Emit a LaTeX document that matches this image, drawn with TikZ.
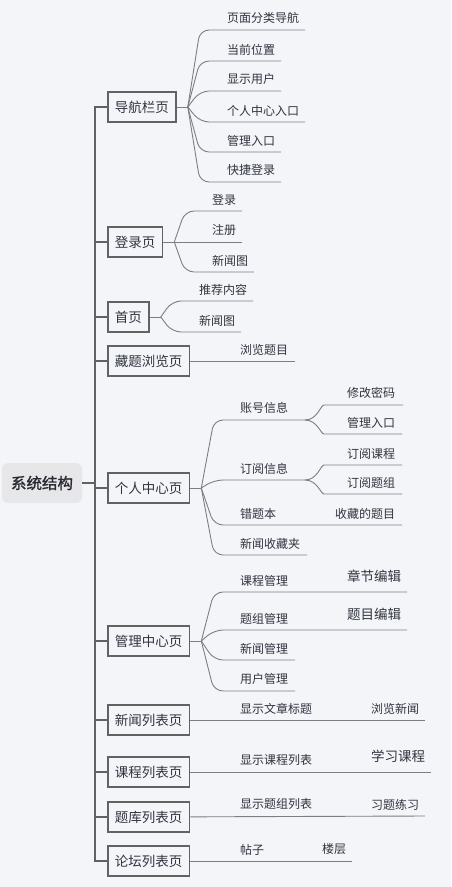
\documentclass[tikz,border=0pt]{standalone}
\usepackage{fontspec}
\setmainfont{Noto Sans CJK SC}
\newfontfamily\rootfont[FakeBold=1.4]{Noto Sans CJK SC}
\definecolor{bg}{HTML}{F4F5F9}
\definecolor{ink}{HTML}{30343E}
\definecolor{rootgray}{HTML}{E7E7E9}
\definecolor{boxgray}{HTML}{626262}
\definecolor{twiggray}{HTML}{7E7E82}

\begin{document}
\begin{tikzpicture}[x=1pt, y=-1pt,
		rootbox/.style={
				fill=rootgray, rounded corners=6pt,
				minimum width=80pt, minimum height=40pt,
				text=ink!80!black, font=\rootfont\fontsize{15.5}{18}\selectfont
			},
		pagebox/.style={
				draw=boxgray, line width=1.8pt, fill=bg, anchor=west,
				minimum height=30pt, inner xsep=7pt,
				text=ink, font=\fontsize{13.5}{16}\selectfont
			},
		leaf/.style={
				anchor=south west, inner xsep=0pt, inner ysep=6pt, outer sep=0pt,
				text=ink, font=\fontsize{12}{14}\selectfont
			},
		bigleaf/.style={leaf, inner ysep=9pt, font=\fontsize{13.5}{16}\selectfont},
		twig/.style={draw=twiggray, line width=0.9pt, rounded corners=9pt},
		spine/.style={draw=boxgray, line width=2pt}
	]
	\useasboundingbox (0,0) rectangle (451,887);
	\fill[bg] (0,0) rectangle (451,887);

	% root and pages
	\node[rootbox] (root) at (42,483) {系统结构};
	\node[pagebox] (nav) at (107,107) {导航栏页};
	\node[pagebox] (login) at (107,242) {登录页};
	\node[pagebox] (home) at (107,317) {首页};
	\node[pagebox] (browse) at (107,361) {藏题浏览页};
	\node[pagebox] (user) at (107,488) {个人中心页};
	\node[pagebox] (mgr) at (107,641) {管理中心页};
	\node[pagebox] (news) at (107,720) {新闻列表页};
	\node[pagebox] (course) at (107,772) {课程列表页};
	\node[pagebox] (bank) at (107,817) {题库列表页};
	\node[pagebox] (forum) at (107,861) {论坛列表页};

	% spine
	\coordinate (spineTop) at ([xshift=-12pt]nav.west);
	\draw[spine] (nav.west) -- (spineTop) |- (forum.west);
	\draw[spine] (root) -- (root -| spineTop);
	\draw[spine] (login) -- (login -| spineTop);
	\draw[spine] (home) -- (home -| spineTop);
	\draw[spine] (browse) -- (browse -| spineTop);
	\draw[spine] (user) -- (user -| spineTop);
	\draw[spine] (mgr) -- (mgr -| spineTop);
	\draw[spine] (news) -- (news -| spineTop);
	\draw[spine] (course) -- (course -| spineTop);
	\draw[spine] (bank) -- (bank -| spineTop);

	% navigation bar
	\node[leaf] (nav1) at (227,30) {页面分类导航};
	\node[leaf] (nav2) at (227,61) {当前位置};
	\node[leaf] (nav3) at (227,91) {显示用户};
	\node[leaf] (nav4) at (227,122) {个人中心入口};
	\node[leaf] (nav5) at (227,152) {管理入口};
	\node[leaf] (nav6) at (227,182) {快捷登录};
	\coordinate (navJ) at ([xshift=11pt]nav.east);
	\draw[twig] (nav) -- (navJ);
	\draw[twig] (navJ) -- ([xshift=-27pt]nav1.south west) -- ([xshift=6pt]nav1.south east);
	\draw[twig] (navJ) -- ([xshift=-27pt]nav2.south west) -- ([xshift=6pt]nav2.south east);
	\draw[twig] (navJ) -- ([xshift=-27pt]nav3.south west) -- ([xshift=6pt]nav3.south east);
	\draw[twig] (navJ) -- ([xshift=-27pt]nav4.south west) -- ([xshift=6pt]nav4.south east);
	\draw[twig] (navJ) -- ([xshift=-27pt]nav5.south west) -- ([xshift=6pt]nav5.south east);
	\draw[twig] (navJ) -- ([xshift=-27pt]nav6.south west) -- ([xshift=6pt]nav6.south east);

	% login page
	\node[leaf] (log1) at (212,211) {登录};
	\node[leaf] (log2) at (212,242) {注册};
	\node[leaf] (log3) at (212,272) {新闻图};
	\coordinate (logJ) at ([xshift=11pt]login.east);
	\draw[twig] (login) -- (logJ);
	\draw[twig] (logJ) -- ([xshift=-27pt]log1.south west) -- ([xshift=6pt]log1.south east);
	\draw[twig] (logJ) -- ([xshift=6pt]log2.south east);
	\draw[twig] (logJ) -- ([xshift=-27pt]log3.south west) -- ([xshift=6pt]log3.south east);

	% home page
	\node[leaf] (home1) at (199,301) {推荐内容};
	\node[leaf] (home2) at (199,332) {新闻图};
	\coordinate (homeJ) at ([xshift=11pt]home.east);
	\draw[twig] (home) -- (homeJ);
	\draw[twig] (homeJ) -- ([xshift=-27pt]home1.south west) -- ([xshift=6pt]home1.south east);
	\draw[twig] (homeJ) -- ([xshift=-27pt]home2.south west) -- ([xshift=6pt]home2.south east);

	% browse page
	\node[leaf] (browse1) at (240,361) {浏览题目};
	\draw[twig] (browse) -- ([xshift=7pt]browse1.south east);

	% personal center
	\node[leaf] (user1) at (240,420) {账号信息};
	\node[leaf] (user2) at (240,480) {订阅信息};
	\node[leaf] (user3) at (240,525) {错题本};
	\node[leaf] (user4) at (240,555) {新闻收藏夹};
	\node[leaf] (pwd) at (347,405) {修改密码};
	\node[leaf] (admin) at (347,434) {管理入口};
	\node[leaf] (subc) at (347,465) {订阅课程};
	\node[leaf] (subg) at (347,494) {订阅题组};
	\node[leaf] (fav) at (335,525) {收藏的题目};
	\coordinate (userJ) at ([xshift=11pt]user.east);
	\coordinate (accJ) at ([xshift=17pt]user1.south east);
	\coordinate (subJ) at ([xshift=17pt]user2.south east);
	\draw[twig] (user) -- (userJ);
	\draw[twig] (userJ) -- ([xshift=-26pt]user1.south west) -- (accJ);
	\draw[twig] (userJ) -- ([xshift=-26pt]user2.south west) -- (subJ);
	\draw[twig] (userJ) -- ([xshift=-26pt]user3.south west) -- ([xshift=7pt]fav.south east);
	\draw[twig] (userJ) -- ([xshift=-26pt]user4.south west) -- ([xshift=7pt]user4.south east);
	\draw[twig] (accJ) to[out=0, in=180] ([xshift=-14pt]pwd.south west) -- ([xshift=8pt]pwd.south east);
	\draw[twig] (accJ) to[out=0, in=180] ([xshift=-14pt]admin.south west) -- ([xshift=7pt]admin.south east);
	\draw[twig] (subJ) to[out=0, in=180] ([xshift=-14pt]subc.south west) -- ([xshift=7pt]subc.south east);
	\draw[twig] (subJ) to[out=0, in=180] ([xshift=-14pt]subg.south west) -- ([xshift=7pt]subg.south east);

	% management center
	\node[leaf] (mgr1) at (240,592) {课程管理};
	\node[leaf] (mgr2) at (240,630) {题组管理};
	\node[leaf] (mgr3) at (240,660) {新闻管理};
	\node[leaf] (mgr4) at (240,691) {用户管理};
	\node[bigleaf] (chap) at (347,592) {章节编辑};
	\node[bigleaf] (qedit) at (347,630) {题目编辑};
	\coordinate (mgrJ) at ([xshift=11pt]mgr.east);
	\draw[twig] (mgr) -- (mgrJ);
	\draw[twig] (mgrJ) -- ([xshift=-26pt]mgr1.south west) -- ([xshift=6pt]chap.south east);
	\draw[twig] (mgrJ) -- ([xshift=-26pt]mgr2.south west) -- ([xshift=6pt]qedit.south east);
	\draw[twig] (mgrJ) -- ([xshift=-26pt]mgr3.south west) -- ([xshift=7pt]mgr3.south east);
	\draw[twig] (mgrJ) -- ([xshift=-26pt]mgr4.south west) -- ([xshift=7pt]mgr4.south east);

	% list pages
	\node[leaf] (news1) at (240,720) {显示文章标题};
	\node[leaf] (news2) at (371,720) {浏览新闻};
	\node[leaf] (course1) at (240,772) {显示课程列表};
	\node[bigleaf] (course2) at (371,772) {学习课程};
	\node[leaf] (bank1) at (240,816) {显示题组列表};
	\node[leaf] (bank2) at (371,816) {习题练习};
	\node[leaf] (forum1) at (240,861) {帖子};
	\node[leaf] (forum2) at (322,861) {楼层};
	\draw[twig] (news) -- ([xshift=6pt]news2.south east);
	\draw[twig] (course) -- ([xshift=6pt]course2.south east);
	\draw[twig] (bank) -- ([xshift=6pt]bank2.south east);
	\draw[twig] (forum) -- ([xshift=6pt]forum2.south east);
\end{tikzpicture}
\end{document}
